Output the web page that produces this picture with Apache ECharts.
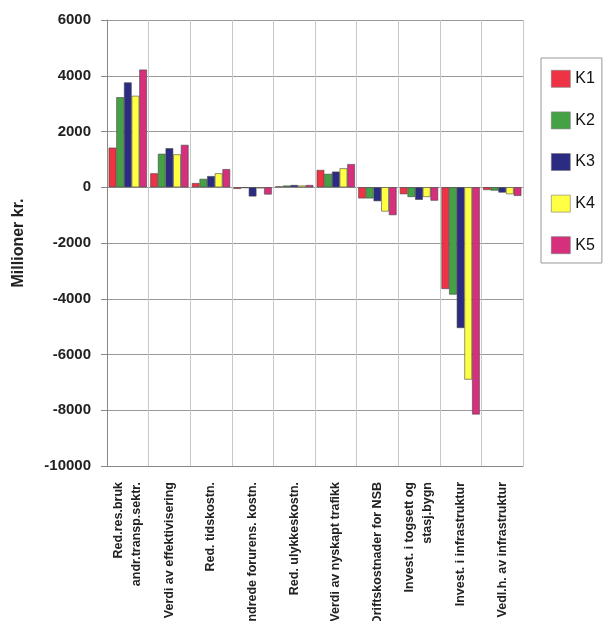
<!DOCTYPE html>
<html>
<head>
<meta charset="utf-8">
<script src="https://cdn.jsdelivr.net/npm/echarts@6/dist/echarts.min.js"></script>
<style>
html,body{margin:0;padding:0;background:#fff;}
#c{width:605px;height:621px;}
</style>
</head>
<body>
<div id="c"></div>
<script>
const categories = [
  "Red.res.bruk\nandr.transp.sektr.",
  "Verdi av effektivisering",
  "Red. tidskostn.",
  "Endrede forurens. kostn.",
  "Red. ulykkeskostn.",
  "Verdi av nyskapt trafikk",
  "Driftskostnader for NSB",
  "Invest. i togsett og\nstasj.bygn",
  "Invest. i infrastruktur",
  "Vedl.h. av infrastruktur"
];
const seriesNames = ["K1", "K2", "K3", "K4", "K5"];
const K1 = [1420, 500, 150, -60, 30, 620, -400, -250, -3650, -100];
const K2 = [3230, 1200, 300, -30, 60, 480, -400, -350, -3850, -120];
const K3 = [3760, 1400, 400, -330, 80, 560, -500, -450, -5050, -190];
const K4 = [3280, 1180, 500, -40, 60, 680, -870, -350, -6900, -250];
const K5 = [4220, 1520, 650, -260, 80, 830, -1000, -480, -8150, -310];
const yTicks = { min: -10000, max: 6000, interval: 2000 };
const yAxisName = "Millioner kr.";

const colors = ["#ee3344", "#44a244", "#2b2b82", "#ffff44", "#d6307c"];
const values = [K1, K2, K3, K4, K5];

const chart = echarts.init(document.getElementById('c'), null, {renderer: 'canvas'});
chart.setOption({
  animation: false,
  backgroundColor: '#ffffff',
  color: colors,
  grid: { left: 107, right: 82, top: 20, bottom: 155, show: false, containLabel: false, outerBoundsMode: 'none' },
  legend: {
    orient: 'vertical',
    left: 541,
    top: 58,
    padding: [12, 7, 9, 10],
    itemWidth: 19,
    itemHeight: 17,
    itemGap: 24,
    itemTextGap: 10,
    borderColor: '#999',
    borderWidth: 1,
    icon: 'rect',
    itemStyle: { borderColor: '#777', borderWidth: 0.6 },
    textStyle: { fontFamily: 'Liberation Sans, Arial, sans-serif', fontSize: 16, color: '#111' },
    data: seriesNames
  },
  xAxis: {
    type: 'category',
    data: categories,
    position: 'bottom',
    axisLine: { onZero: false, lineStyle: { color: '#888', width: 1 } },
    axisTick: { show: false },
    splitLine: { show: true, lineStyle: { color: '#c8c8c8', width: 1 } },
    axisLabel: {
      interval: 0,
      rotate: 90,
      margin: 16,
      fontFamily: 'Liberation Sans Narrow, Arial Narrow, Liberation Sans, sans-serif',
      fontWeight: 'bold',
      fontSize: 12.5,
      lineHeight: 18,
      color: '#222'
    }
  },
  yAxis: {
    type: 'value',
    min: yTicks.min,
    max: yTicks.max,
    interval: yTicks.interval,
    name: yAxisName,
    nameLocation: 'middle',
    nameRotate: 90,
    nameGap: 80,
    nameTextStyle: { fontFamily: 'Liberation Sans, Arial, sans-serif', fontWeight: 'bold', fontSize: 16, color: '#222' },
    axisLine: { show: true, lineStyle: { color: '#888', width: 1 } },
    axisTick: { show: true, length: 6, lineStyle: { color: '#888' } },
    splitLine: { show: true, lineStyle: { color: '#999', width: 1 } },
    axisLabel: {
      margin: 16,
      fontFamily: 'Liberation Sans, Arial, sans-serif',
      fontWeight: 'bold',
      fontSize: 15,
      color: '#222',
      formatter: v => String(v)
    }
  },
  series: seriesNames.map((n, i) => ({
    name: n,
    type: 'bar',
    data: values[i],
    barGap: '0%',
    barCategoryGap: '8%',
    itemStyle: { color: colors[i], borderColor: '#444', borderWidth: 0.6 }
  }))
});
</script>
</body>
</html>
